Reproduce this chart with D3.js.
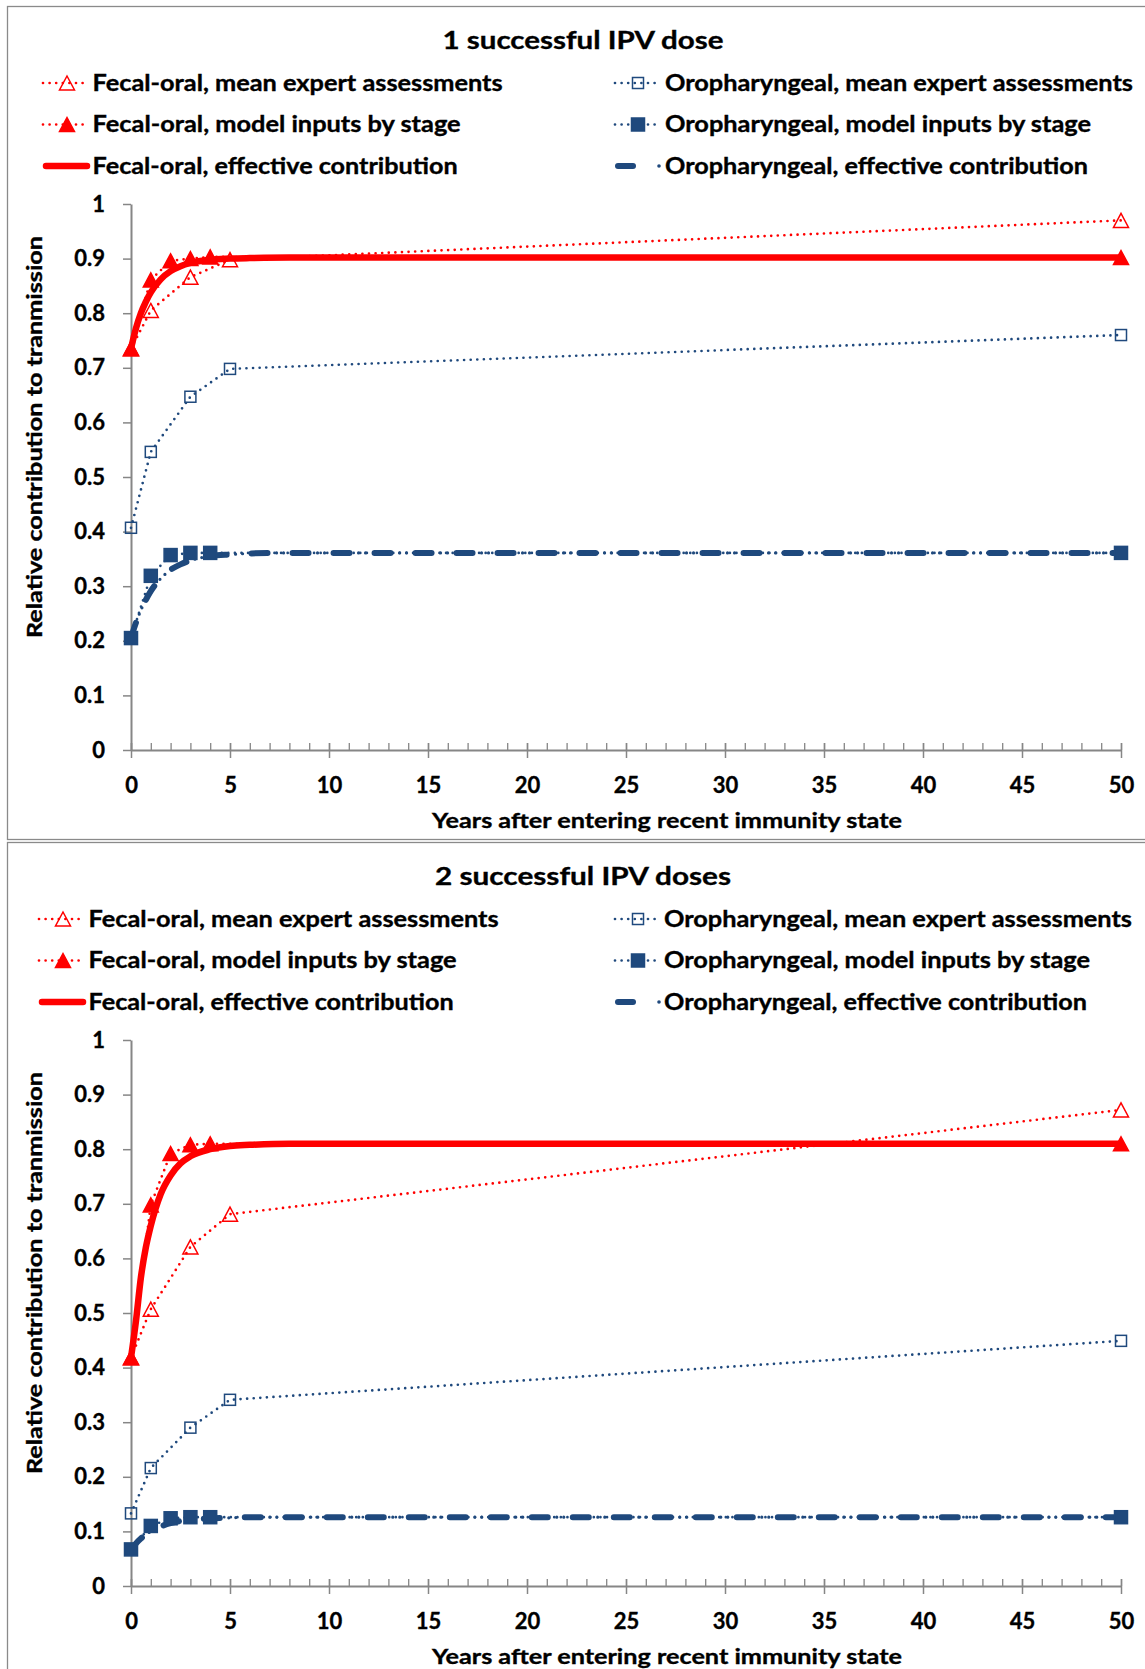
<!DOCTYPE html>
<html>
<head>
<meta charset="utf-8">
<script src="https://cdnjs.cloudflare.com/ajax/libs/d3/7.8.5/d3.min.js"></script>
<style>
  body { margin: 0; background: #fff; }
  svg text { font-family: Lato, "Open Sans", sans-serif; font-weight: 700; fill: #000; stroke: #000; stroke-width: 0.35px; }
</style>
</head>
<body>
<div id="canvas"></div>
<script>
// ---- data ----
var xTicks = [0, 5, 10, 15, 20, 25, 30, 35, 40, 45, 50];
var yTicks = [0, 0.1, 0.2, 0.3, 0.4, 0.5, 0.6, 0.7, 0.8, 0.9, 1];

var expertYears = [0, 1, 3, 5, 50];
var modelYears = [0, 1, 2, 3, 4, 50];
var effYears = [0, 0.25, 0.5, 0.75, 1, 1.5, 2, 2.5, 3, 4, 5, 6, 8, 10, 50];

// panel 1: 1 successful IPV dose
var feExpert1 = [0.735, 0.805, 0.866, 0.898, 0.970];
var feModel1 = [0.735, 0.861, 0.896, 0.900, 0.903, 0.902];
var feEff1 = [0.735, 0.772, 0.800, 0.821, 0.838, 0.862, 0.877, 0.886, 0.892, 0.898, 0.900, 0.901, 0.902, 0.902, 0.902];
var orExpert1 = [0.407, 0.546, 0.647, 0.698, 0.760];
var orModel1 = [0.205, 0.319, 0.357, 0.361, 0.361, 0.361];
var orEff1 = [0.205, 0.233, 0.256, 0.275, 0.291, 0.314, 0.330, 0.340, 0.347, 0.355, 0.358, 0.360, 0.361, 0.361, 0.361];

// panel 2: 2 successful IPV doses
var feExpert2 = [0.418, 0.507, 0.621, 0.681, 0.872];
var feModel2 = [0.418, 0.698, 0.792, 0.808, 0.810, 0.810];
var feEff2 = [0.418, 0.485, 0.565, 0.620, 0.660, 0.718, 0.752, 0.774, 0.787, 0.800, 0.806, 0.808, 0.810, 0.810, 0.810];
var orExpert2 = [0.133, 0.216, 0.290, 0.341, 0.449];
var orModel2 = [0.067, 0.110, 0.124, 0.126, 0.126, 0.126];
var orEff2 = [0.067, 0.078, 0.087, 0.094, 0.100, 0.109, 0.115, 0.119, 0.121, 0.124, 0.125, 0.126, 0.126, 0.126, 0.126];

var titles = ['1 successful IPV dose', '2 successful IPV doses'];
var legendLeft = ['Fecal-oral, mean expert assessments', 'Fecal-oral, model inputs by stage', 'Fecal-oral, effective contribution'];
var legendRight = ['Oropharyngeal, mean expert assessments', 'Oropharyngeal, model inputs by stage', 'Oropharyngeal, effective contribution'];
var xTitle = 'Years after entering recent immunity state';
var yTitle = 'Relative contribution to tranmission';

var RED = '#ff0000', BLUE = '#1f497d', AXIS = '#868686';

var W = 1145, H = 1669;
var svg = d3.select('#canvas').append('svg')
    .attr('width', W).attr('height', H);

var x = d3.scaleLinear().domain([0, 50]).range([131, 1121]);

function zip(xs, ys) { return xs.map(function(d, i){ return [d, ys[i]]; }); }

function triangle(g, cx, cy, filled) {
    var s = 15, h = 14;
    g.append('path')
        .attr('d', 'M' + cx + ',' + (cy - h/2) + 'L' + (cx + s/2) + ',' + (cy + h/2) + 'L' + (cx - s/2) + ',' + (cy + h/2) + 'Z')
        .attr('fill', filled ? RED : 'none')
        .attr('stroke', RED).attr('stroke-width', 1.5);
}
function square(g, cx, cy, filled) {
    var s = filled ? 13 : 11;
    g.append('rect')
        .attr('x', cx - s/2).attr('y', cy - s/2).attr('width', s).attr('height', s)
        .attr('fill', filled ? BLUE : 'none')
        .attr('stroke', BLUE).attr('stroke-width', 1.5);
}

function dotted(g, color) {
    return g.append('path').attr('fill', 'none').attr('stroke', color)
        .attr('stroke-width', 2.7).attr('stroke-linecap', 'round')
        .attr('stroke-dasharray', '0 6.6');
}

function drawPanel(top, leftShift, d) {
    var g = svg.append('g');
    var y = d3.scaleLinear().domain([0, 1]).range([top + 744, top + 198]);

    // frame
    g.append('rect').attr('x', 7.5).attr('y', top + 0.5)
        .attr('width', W + 20).attr('height', d.frameH)
        .attr('fill', 'none').attr('stroke', '#8a8a8a').attr('stroke-width', 1.3);

    // title
    g.append('text').attr('x', 583).attr('y', top + 34).attr('dy', '0.36em')
        .attr('text-anchor', 'middle').style('font-size', '25px')
        .attr('textLength', d.titleW).attr('lengthAdjust', 'spacingAndGlyphs')
        .text(d.title);

    // legend
    var rows = [top + 77, top + 118.5, top + 160];
    var lx0 = 43 - leftShift, lx1 = 89 - leftShift, lm = 67 - leftShift, ltx = 92.6 - leftShift;
    var rx0 = 615, rx1 = 660, rm = 638, rtx = 665 - leftShift / 4;
    var leftW = [410, 368, 365], rightW = [468, 426, 423];

    dotted(g, RED).attr('d', 'M' + lx0 + ',' + rows[0] + 'H' + lx1);
    triangle(g, lm, rows[0], false);
    dotted(g, RED).attr('d', 'M' + lx0 + ',' + rows[1] + 'H' + lx1);
    triangle(g, lm, rows[1], true);
    g.append('path').attr('d', 'M' + (lx0 + 3) + ',' + rows[2] + 'H' + (lx1 - 2))
        .attr('stroke', RED).attr('stroke-width', 6.5).attr('stroke-linecap', 'round');

    dotted(g, BLUE).attr('d', 'M' + rx0 + ',' + rows[0] + 'H' + rx1);
    square(g, rm, rows[0], false);
    dotted(g, BLUE).attr('d', 'M' + rx0 + ',' + rows[1] + 'H' + rx1);
    square(g, rm, rows[1], true);
    g.append('path').attr('d', 'M' + (rx0 + 3) + ',' + rows[2] + 'H' + (rx0 + 18))
        .attr('stroke', BLUE).attr('stroke-width', 6).attr('stroke-linecap', 'round');
    g.append('circle').attr('cx', 659).attr('cy', rows[2]).attr('r', 1.8).attr('fill', BLUE);

    legendLeft.forEach(function(t, i){
        g.append('text').attr('x', ltx).attr('y', rows[i]).attr('dy', '0.36em')
            .style('font-size', '22px').attr('textLength', leftW[i]).attr('lengthAdjust', 'spacingAndGlyphs')
            .text(t);
    });
    legendRight.forEach(function(t, i){
        g.append('text').attr('x', rtx).attr('y', rows[i]).attr('dy', '0.36em')
            .style('font-size', '22px').attr('textLength', rightW[i]).attr('lengthAdjust', 'spacingAndGlyphs')
            .text(t);
    });

    // y axis
    var yAxis = g.append('g').attr('transform', 'translate(' + x(0) + ',0)')
        .call(d3.axisLeft(y).tickValues(yTicks).tickSize(8).tickSizeOuter(0).tickPadding(18)
            .tickFormat(function(v){ return v === 0 ? '0' : v === 1 ? '1' : v.toFixed(1); }));
    yAxis.select('.domain').attr('stroke', AXIS).attr('stroke-width', 2);
    yAxis.selectAll('.tick line').attr('stroke', AXIS).attr('stroke-width', 1.5);
    yAxis.selectAll('.tick text').style('font-size', '22px').attr('fill', '#000')
        .style('font-family', 'Lato, sans-serif').style('font-weight', 700);

    // x axis: minor ticks every year inside, majors crossing
    var minor = g.append('g').attr('transform', 'translate(0,' + y(0) + ')')
        .call(d3.axisBottom(x).tickValues(d3.range(0, 51, 1)).tickSize(-7).tickSizeOuter(0).tickFormat(''));
    minor.select('.domain').remove();
    minor.selectAll('.tick line').attr('stroke', AXIS).attr('stroke-width', 1.3);

    var xAxis = g.append('g').attr('transform', 'translate(0,' + y(0) + ')')
        .call(d3.axisBottom(x).tickValues(xTicks).tickSize(8).tickSizeOuter(0));
    xAxis.select('.domain').attr('stroke', AXIS).attr('stroke-width', 2);
    xAxis.selectAll('.tick line').attr('y1', -7).attr('stroke', AXIS).attr('stroke-width', 1.5);
    xAxis.selectAll('.tick text').attr('y', 35).attr('dy', '0.36em')
        .style('font-size', '22px').attr('fill', '#000')
        .style('font-family', 'Lato, sans-serif').style('font-weight', 700);

    // axis titles
    g.append('text').attr('x', 667).attr('y', top + 814).attr('dy', '0.36em')
        .attr('text-anchor', 'middle').style('font-size', '21px')
        .attr('textLength', 470).attr('lengthAdjust', 'spacingAndGlyphs').text(xTitle);
    g.append('text').attr('transform', 'translate(34,' + (top + 431) + ') rotate(-90)')
        .attr('dy', '0.36em').attr('text-anchor', 'middle').style('font-size', '21px')
        .attr('textLength', 402).attr('lengthAdjust', 'spacingAndGlyphs').text(yTitle);

    // series
    var lineLin = d3.line().x(function(p){ return x(p[0]); }).y(function(p){ return y(p[1]); });
    var lineSmooth = d3.line().curve(d3.curveMonotoneX)
        .x(function(p){ return x(p[0]); }).y(function(p){ return y(p[1]); });

    // oropharyngeal effective: long dash, dot, dot
    var orEffD = lineSmooth(zip(effYears, d.orEff));
    g.append('path').attr('d', orEffD).attr('fill', 'none').attr('stroke', BLUE)
        .attr('stroke-width', 6).attr('stroke-linecap', 'round').attr('stroke-dasharray', '16 25');
    g.append('path').attr('d', orEffD).attr('fill', 'none').attr('stroke', BLUE)
        .attr('stroke-width', 3.2).attr('stroke-linecap', 'round').attr('stroke-dasharray', '0 25 0 7 0 9');

    // fecal-oral effective
    g.append('path').attr('d', lineSmooth(zip(effYears, d.feEff))).attr('fill', 'none')
        .attr('stroke', RED).attr('stroke-width', 6.5).attr('stroke-linejoin', 'round');

    dotted(g, BLUE).attr('d', lineLin(zip(expertYears, d.orExpert)));
    dotted(g, BLUE).attr('d', lineLin(zip(modelYears, d.orModel)));
    dotted(g, RED).attr('d', lineLin(zip(expertYears, d.feExpert)));
    dotted(g, RED).attr('d', lineLin(zip(modelYears, d.feModel)));

    zip(expertYears, d.orExpert).forEach(function(p){ square(g, x(p[0]), y(p[1]), false); });
    zip(modelYears, d.orModel).forEach(function(p){ square(g, x(p[0]), y(p[1]), true); });
    zip(expertYears, d.feExpert).forEach(function(p){ triangle(g, x(p[0]), y(p[1]), false); });
    zip(modelYears, d.feModel).forEach(function(p){ triangle(g, x(p[0]), y(p[1]), true); });
}

drawPanel(6, 0, {
    title: titles[0], titleW: 281, frameH: 833,
    feExpert: feExpert1, feModel: feModel1, feEff: feEff1,
    orExpert: orExpert1, orModel: orModel1, orEff: orEff1
});
drawPanel(842, 4, {
    title: titles[1], titleW: 296, frameH: 900,
    feExpert: feExpert2, feModel: feModel2, feEff: feEff2,
    orExpert: orExpert2, orModel: orModel2, orEff: orEff2
});
</script>
</body>
</html>
